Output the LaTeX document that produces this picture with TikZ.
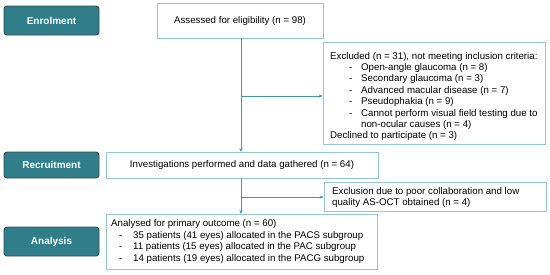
\documentclass[tikz,border=0pt]{standalone}
\usepackage{fontspec}
\setmainfont{Liberation Sans}
\usetikzlibrary{arrows.meta}
\definecolor{stagefill}{HTML}{2F7E8A}
\definecolor{stagerim}{HTML}{344C52}
\definecolor{flowline}{HTML}{3E98A8}
\definecolor{boxrim}{HTML}{93C8D0}
\newcommand{\dashitem}[3]{\hspace*{#1}\makebox[#2][l]{-}#3}
\begin{document}
\begin{tikzpicture}[x=1pt,y=-1pt]
        \tikzset{stage node/.style={rectangle, rounded corners=3pt, draw=stagerim, line width=0.9pt, fill=stagefill, text=white, font=\fontsize{10}{11}\selectfont\bfseries, minimum width=95pt, inner sep=0pt},
                 flow node/.style={rectangle, draw=boxrim, line width=0.8pt, fill=white, font=\fontsize{9.7}{11.4}\selectfont, inner sep=0pt},
                 flow text/.style={font=\fontsize{9.7}{11.4}\selectfont, inner sep=0pt, align=left, anchor=west},
                 flow arrow/.style={draw=flowline, line width=0.8pt, -{Stealth[length=4pt,width=3.2pt]}}}
        \useasboundingbox (0,0) rectangle (550,274);
        \node[stage node, minimum height=29pt] (enrol) at (51.5,20.5) {Enrolment};
        \node[stage node, minimum height=26pt] (recruit) at (51.5,165) {Recruitment};
        \node[stage node, minimum height=29pt] (analysis) at (51.5,241.5) {Analysis};
        \node[flow node, minimum width=166pt, minimum height=35pt] (assessed) at (240,20.5) {Assessed for eligibility (n = 98)};
        \node[flow node, minimum width=222pt, minimum height=102pt] (excluded) at (434,93) {};
        \node[flow text] (exclist) at (330,96.5)
          {Excluded (n = 31), not meeting inclusion criteria:\\
           \dashitem{19pt}{12pt}{Open-angle glaucoma (n = 8)}\\
           \dashitem{19pt}{12pt}{Secondary glaucoma (n = 3)}\\
           \dashitem{19pt}{12pt}{Advanced macular disease (n = 7)}\\
           \dashitem{19pt}{12pt}{Pseudophakia (n = 9)}\\
           \dashitem{19pt}{12pt}{Cannot perform visual field testing due to}\\
           \hspace*{31pt}non-ocular causes (n = 4)\\
           Declined to participate (n = 3)};
        \node[flow node, minimum width=272pt, minimum height=26pt] (invest) at (242,165) {Investigations performed and data gathered (n = 64)};
        \node[flow node, minimum width=222pt, minimum height=29pt] (poorqual) at (435,196.5) {};
        \node[flow text] (poortext) at (332,197.5)
          {Exclusion due to poor collaboration and low\\quality AS-OCT obtained (n = 4)};
        \node[flow node, minimum width=271pt, minimum height=55pt] (primary) at (241.5,241.5) {};
        \node[flow text] (primtext) at (111,241.5)
          {Analysed for primary outcome (n = 60)\\
           \dashitem{8pt}{14pt}{35 patients (41 eyes) allocated in the PACS subgroup}\\
           \dashitem{8pt}{14pt}{11 patients (15 eyes) allocated in the PAC subgroup}\\
           \dashitem{8pt}{14pt}{14 patients (19 eyes) allocated in the PACG subgroup}};
        \coordinate (split1) at (241,96);
        \coordinate (split2) at (241,197);
        \draw[flow arrow] (241,38) -- (241,152);
        \draw[flow arrow] (split1) -- (split1 -| excluded.west);
        \draw[flow arrow] (241,178) -- (241,214);
        \draw[flow arrow] (split2) -- (split2 -| poorqual.west);
      \end{tikzpicture}
\end{document}
